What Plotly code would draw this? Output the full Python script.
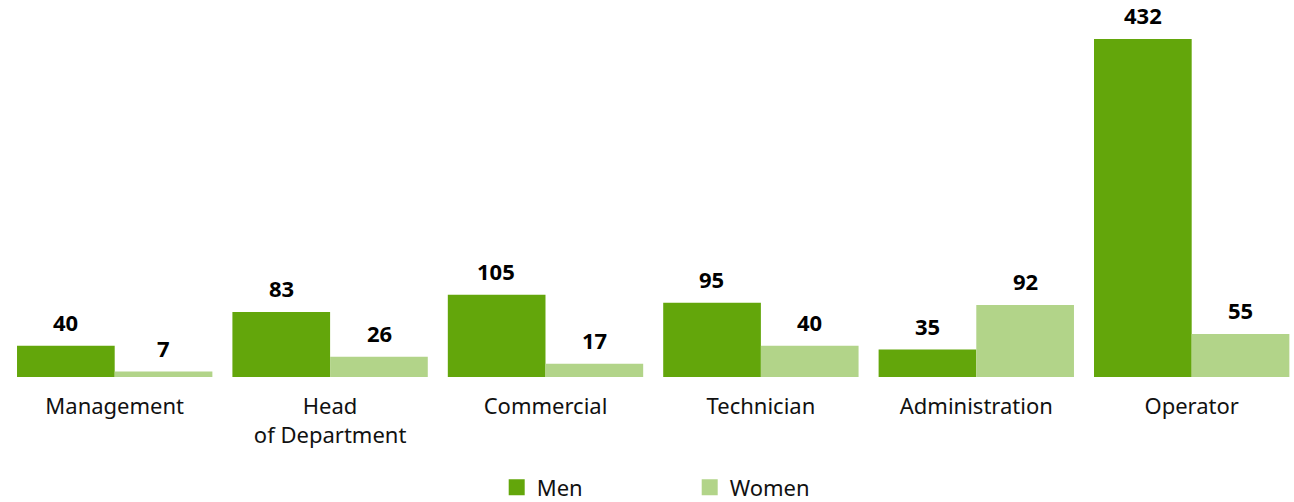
import plotly.graph_objects as go

# Headcount by job category and gender
categories = ["Management", "Head<br>of Department", "Commercial", "Technician", "Administration", "Operator"]
men = [40, 83, 105, 95, 35, 432]
women = [7, 26, 17, 40, 92, 55]

MEN_COLOR = "#63a60b"
WOMEN_COLOR = "#b2d489"
FONT = "Noto Sans"

fig = go.Figure()
fig.add_bar(name="Men", x=categories, y=men, marker_color=MEN_COLOR,
            marker_line_width=0, showlegend=False)
fig.add_bar(name="Women", x=categories, y=women, marker_color=WOMEN_COLOR,
            marker_line_width=0, showlegend=False)

# Legend entries with larger square swatches
for name, color in (("Men", MEN_COLOR), ("Women", WOMEN_COLOR)):
    fig.add_scatter(name=name, x=[None], y=[None], mode="markers",
                    marker=dict(symbol="square", size=17, color=color))

# Value labels above each bar
half_px = 49
annotations = []
for i, cat in enumerate(categories):
    for vals, shift in ((men, -half_px), (women, half_px)):
        annotations.append(dict(
            x=cat, y=vals[i], xref="x", yref="y", text=f"<b>{vals[i]}</b>",
            showarrow=False, xshift=shift, yanchor="bottom", yshift=7,
            font=dict(family=FONT, size=22, color="#000000"),
        ))

fig.update_layout(
    width=1294, height=502,
    margin=dict(l=7, r=0, t=0, b=125, autoexpand=False),
    paper_bgcolor="white", plot_bgcolor="white",
    barmode="group", bargap=0.093, bargroupgap=0,
    font=dict(family=FONT, size=22, color="#111111"),
    annotations=annotations,
    showlegend=True,
    legend=dict(
        orientation="h", x=0.533, xanchor="center", xref="container",
        y=-0.293, yanchor="middle", yref="paper",
        font=dict(family=FONT, size=22, color="#111111"),
        entrywidth=148, entrywidthmode="pixels", itemwidth=30,
    ),
    xaxis=dict(
        range=[-0.5, 5.475], showgrid=False, zeroline=False, showline=False,
        ticks="outside", ticklen=0, ticklabelstandoff=10, automargin=False,
        tickfont=dict(family=FONT, size=22, color="#111111"),
    ),
    yaxis=dict(range=[0, 482], visible=False, fixedrange=True, automargin=False),
)

fig.write_html("out.html")
